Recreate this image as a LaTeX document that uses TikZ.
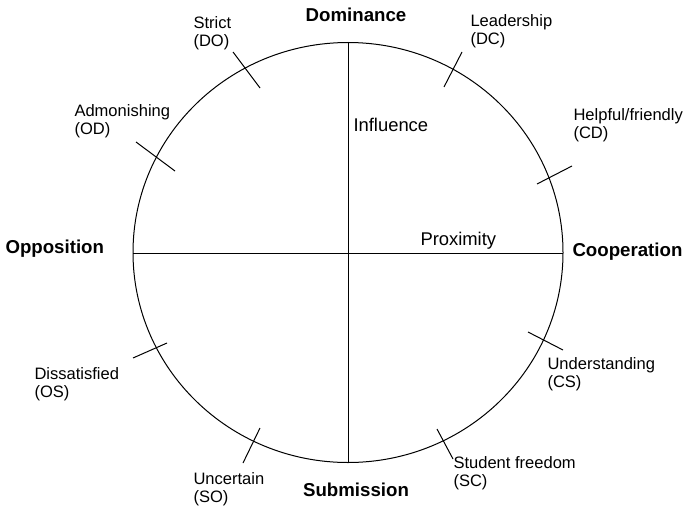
\documentclass[tikz,border=0pt]{standalone}
\usepackage{fontspec}
\setmainfont{Liberation Sans}
\begin{document}
\begin{tikzpicture}[x=0.75pt,y=-0.75pt,line width=0.75pt,
  lbl/.style={anchor=north west,inner sep=0pt,align=left,font=\fontsize{12.4}{13.5}\selectfont},
  pole/.style={inner sep=0pt,font=\fontsize{14}{16}\selectfont\bfseries},
  dimlbl/.style={anchor=west,inner sep=0pt,font=\fontsize{13.8}{15}\selectfont},
  tick/.style={line width=0.75pt}]
\useasboundingbox (0,0) rectangle (688,510);
\coordinate (O) at (348,252.5);
\draw (O) ellipse [x radius=161.25pt, y radius=157.5pt];
\coordinate (N) at (348,42);
\coordinate (S) at (348,463);
\coordinate (W) at (133,253);
\coordinate (E) at (563,253);
\draw (W) -- (E);
\draw (N) -- (S);
% ticks
\coordinate (t1a) at (233,52);  \coordinate (t1b) at (260,88);
\coordinate (t2a) at (462,52);  \coordinate (t2b) at (444,87);
\coordinate (t3a) at (572,166); \coordinate (t3b) at (537,184);
\coordinate (t4a) at (136,142); \coordinate (t4b) at (175,171);
\coordinate (t5a) at (133,358); \coordinate (t5b) at (167,343);
\coordinate (t6a) at (528,332); \coordinate (t6b) at (563,350);
\coordinate (t7a) at (260,428); \coordinate (t7b) at (243,463);
\coordinate (t8a) at (437,429); \coordinate (t8b) at (453,459);
\foreach \i in {1,...,8} \draw[tick] (t\i a) -- (t\i b);
% pole labels
\node[pole] (dom) at (356,15) {Dominance};
\node[pole] (sub) at (356,490) {Submission};
\node[pole,anchor=west] (opp) at (5,249) {Opposition};
\node[pole,anchor=west] (coo) at (572,252) {Cooperation};
% axis names
\node[dimlbl] (inf) at (353,125) {Influence};
\node[dimlbl] (pro) at (420,241) {Proximity};
% octant labels
\node[lbl] (DO) at (193,16) {Strict\\(DO)};
\node[lbl] (DC) at (470,14) {Leadership\\(DC)};
\node[lbl] (OD) at (74,104) {Admonishing\\(OD)};
\node[lbl] (CD) at (573,108) {Helpful/friendly\\(CD)};
\node[lbl] (OS) at (34,367) {Dissatisfied\\(OS)};
\node[lbl] (CS) at (547,357) {Understanding\\(CS)};
\node[lbl] (SO) at (193,472) {Uncertain\\(SO)};
\node[lbl] (SC) at (453,456) {Student freedom\\(SC)};
\end{tikzpicture}
\end{document}
